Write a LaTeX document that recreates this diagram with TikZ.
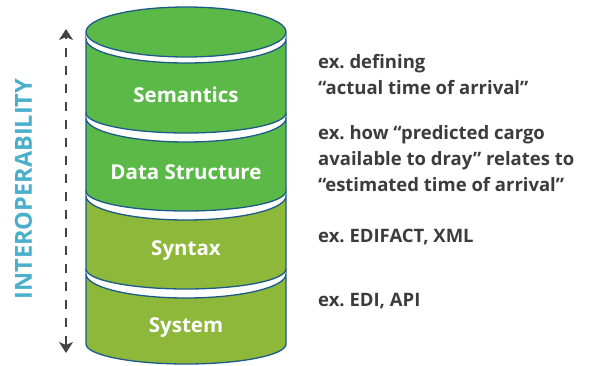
\documentclass[tikz,border=0pt]{standalone}
\usepackage{fontspec}
\setmainfont{Open Sans}
\usetikzlibrary{arrows.meta}
\definecolor{gA}{HTML}{5BB947}
\definecolor{gB}{HTML}{8DB83A}
\definecolor{edge}{HTML}{1D5A8A}
\definecolor{txt}{HTML}{3C3C3C}
\definecolor{teal}{HTML}{4AAFCB}
\definecolor{arr}{HTML}{444444}
\frenchspacing
\tikzset{
  bandedge/.style={draw=edge, line width=1.3pt},
  bandlabel/.style={text=white, font=\fontsize{20.5}{24}\selectfont\bfseries},
  exlabel/.style={text=txt, anchor=base west, align=left, inner sep=0pt,
    font=\fontsize{18.5}{26}\selectfont\bfseries},
  axis/.style={draw=arr, line width=1.5pt, dash pattern=on 9pt off 9pt,
    {Stealth[length=11pt,width=14pt,inset=3pt]}-{Stealth[length=11pt,width=14pt,inset=3pt]}}
}
\newcommand{\cylband}[3]{%
  \path[bandedge, fill=#3] (86,-#1) arc[start angle=180,end angle=360,x radius=100,y radius=24]
    -- (286,-#2) arc[start angle=0,end angle=-180,x radius=100,y radius=20] -- cycle;}
\begin{document}
\begin{tikzpicture}[x=1pt,y=1pt]
\useasboundingbox (0,0) rectangle (598,-366);
% bands
\cylband{274}{344}{gB}
\cylband{196}{269}{gB}
\cylband{118}{191}{gA}
\cylband{39}{113}{gA}
% top ellipse
\draw[bandedge, fill=gA] (186,-32) ellipse[x radius=100, y radius=25];
% band labels
\node[bandlabel] (sem) at (186,-95) {Semantics};
\node[bandlabel] (ds) at (186,-172) {Data Structure};
\node[bandlabel] (syn) at (186,-251) {Syntax};
\node[bandlabel] (sys) at (186,-328) {System};
% examples (anchor = baseline of last line)
\node[exlabel] (e1) at (318,-95) {ex. defining\\“actual time of arrival”};
\node[exlabel] (e2) at (318,-192) {ex. how “predicted cargo\\available to dray” relates to\\“estimated time of arrival”};
\node[exlabel] (e3) at (318,-243) {ex. EDIFACT, XML};
\node[exlabel] (e4) at (318,-307) {ex. EDI, API};
% axis
\coordinate (atop) at (66,-29);
\coordinate (abot) at (66,-353);
\draw[axis] (abot) -- (atop);
\node[rotate=90, text=teal, font=\fontsize{23.5}{26}\selectfont\bfseries] (inter) at (23.5,-189) {INTEROPERABILITY};
\end{tikzpicture}
\end{document}
